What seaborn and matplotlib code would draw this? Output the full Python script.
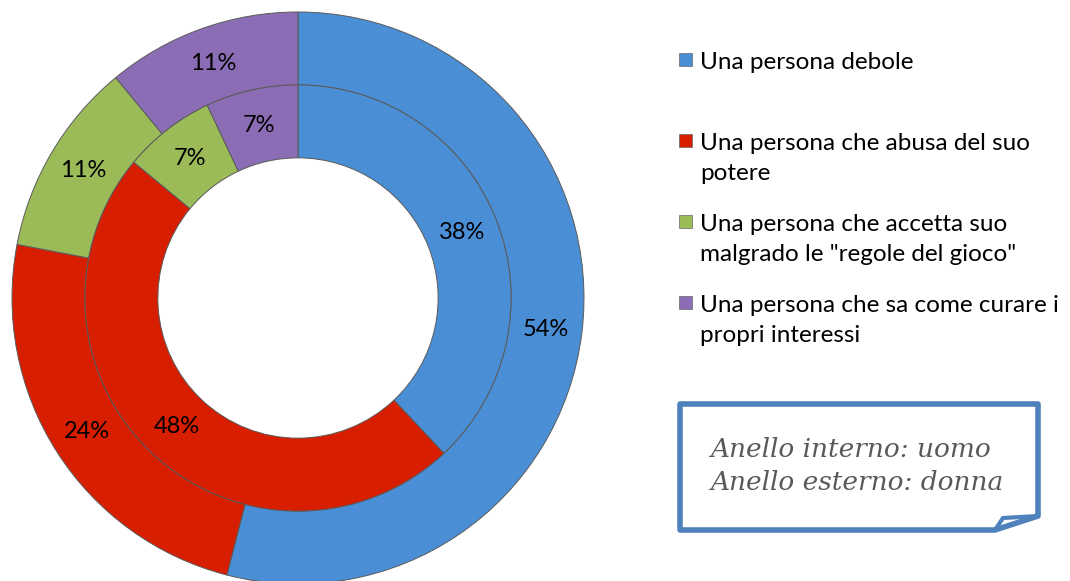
import matplotlib.pyplot as plt
import matplotlib.patches as mpatches
from matplotlib.path import Path
import seaborn as sns

# Dati
categorie = [
    "Una persona debole",
    "Una persona che abusa del suo\npotere",
    "Una persona che accetta suo\nmalgrado le \"regole del gioco\"",
    "Una persona che sa come curare i\npropri interessi",
]
donna = [54, 24, 11, 11]   # anello esterno
uomo = [38, 48, 7, 7]      # anello interno
nota = "Anello interno: uomo\nAnello esterno: donna"

sns.set_theme(style="white")
plt.rcParams['font.family'] = ['Lato', 'DejaVu Sans']
colori = ['#4A8ED6', '#D81E00', '#9BBB59', '#8A6DB5']

W, H = 1070, 581
fig = plt.figure(figsize=(W / 100, H / 100), dpi=100)
fig.patch.set_facecolor('white')

# assi del grafico: centro a (298, 298) px, raggio 286 px
cx, cy, R = 298, 298, 286
half = 290
ax = fig.add_axes([(cx - half) / W, (H - cy - half) / H, 2 * half / W, 2 * half / H])
lim = half / R

larghezza = 0.255
bordo = dict(edgecolor='#5a5a5a', linewidth=0.7, width=larghezza)

ax.pie(donna, radius=1.0, colors=colori, startangle=90, counterclock=False,
       autopct='%.0f%%', pctdistance=1 - larghezza / 2,
       wedgeprops=bordo, textprops=dict(fontsize=17, color='black'))
r2 = 1.0 - larghezza
ax.pie(uomo, radius=r2, colors=colori, startangle=90, counterclock=False,
       autopct='%.0f%%', pctdistance=(r2 - larghezza / 2) / r2,
       wedgeprops=bordo, textprops=dict(fontsize=17, color='black'))
ax.set_xlim(-lim, lim)
ax.set_ylim(-lim, lim)
ax.set_aspect('equal')
ax.axis('off')
for p in ax.patches:
    p.set_clip_on(False)

# legenda manuale
righe_y = [60, 141, 222, 303]
for lab, col, y in zip(categorie, colori, righe_y):
    fig.patches.append(mpatches.Rectangle((679 / W, (H - y - 6) / H), 13 / W, 13 / H,
                                          transform=fig.transFigure, facecolor=col,
                                          edgecolor='#666666', linewidth=0.5))
    fig.text(700 / W, (H - y + 8) / H, lab, fontsize=17.5, va='top', ha='left',
             linespacing=1.55, color='black')

# riquadro con angolo piegato
def px(x, y):
    return (x / W, (H - y) / H)

verts = [px(680, 404), px(1038, 404), px(1038, 516), px(995, 530), px(680, 530), px(680, 404)]
codes = [Path.MOVETO] + [Path.LINETO] * 4 + [Path.CLOSEPOLY]
fig.patches.append(mpatches.PathPatch(Path(verts, codes), transform=fig.transFigure,
                                      facecolor='white', edgecolor='#4F81BD', linewidth=4,
                                      joinstyle='round'))
curl = [px(995, 530), px(1003, 518), px(1038, 516)]
fig.patches.append(mpatches.Polygon(curl, closed=False, transform=fig.transFigure,
                                    fill=False, edgecolor='#4F81BD', linewidth=3))
fig.text(710 / W, (H - 466) / H, nota, fontsize=19, style='italic', color='#595959',
         family=['DejaVu Serif'], va='center', ha='left', linespacing=1.4)

fig.savefig('out.png', dpi=100, facecolor='white')
